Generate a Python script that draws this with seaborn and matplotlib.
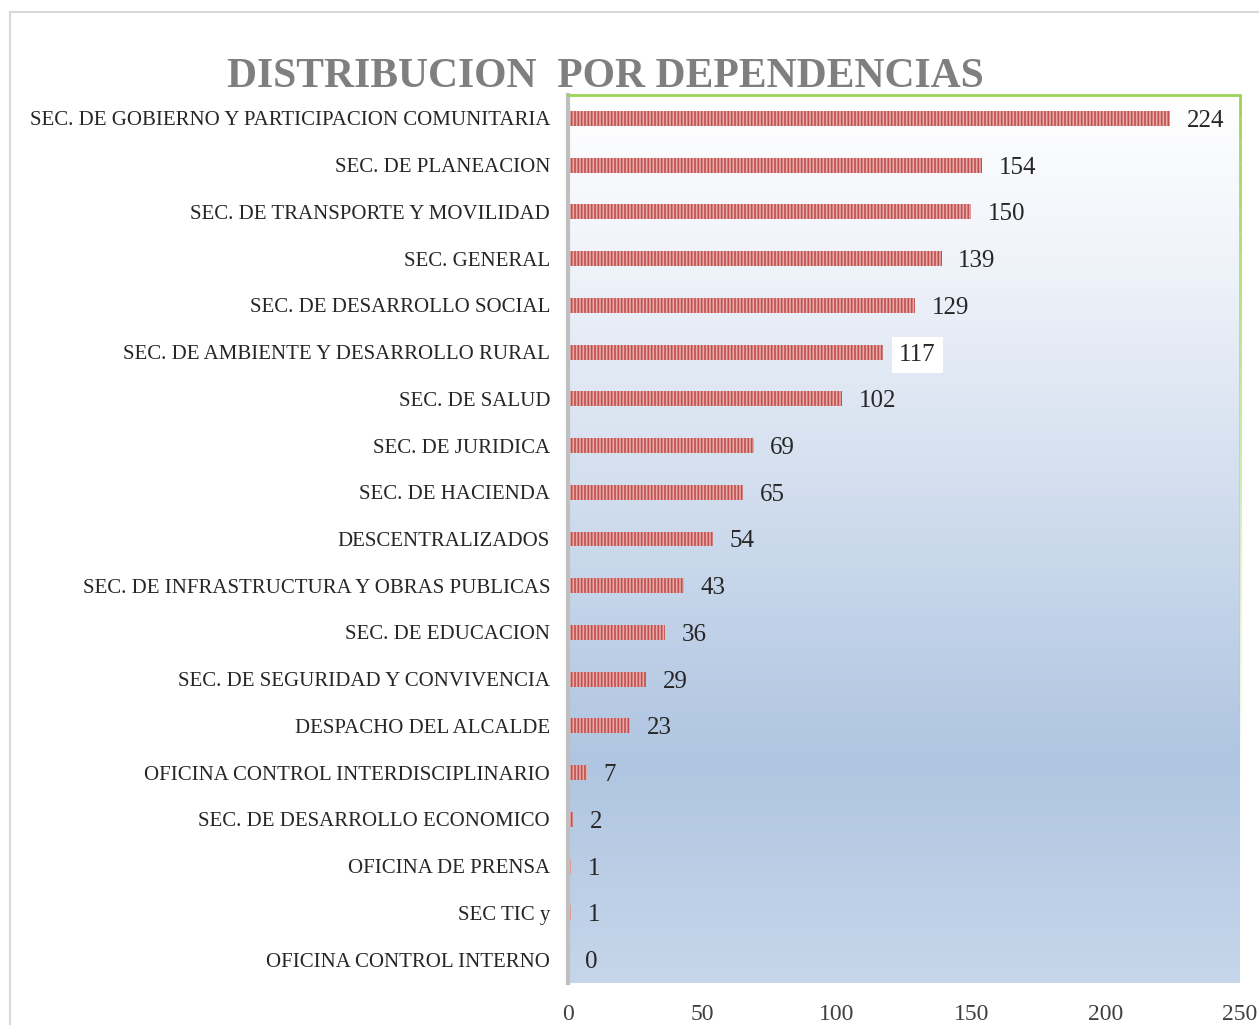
import matplotlib
matplotlib.use('Agg')
import matplotlib.pyplot as plt
import matplotlib.patches as mpatches
from matplotlib.colors import LinearSegmentedColormap
import numpy as np
import pandas as pd
import seaborn as sns

# Data
dependencias = [
    'SEC. DE GOBIERNO Y PARTICIPACION COMUNITARIA',
    'SEC. DE PLANEACION',
    'SEC. DE TRANSPORTE Y MOVILIDAD',
    'SEC. GENERAL',
    'SEC. DE DESARROLLO SOCIAL',
    'SEC. DE AMBIENTE Y DESARROLLO RURAL',
    'SEC. DE SALUD',
    'SEC. DE JURIDICA',
    'SEC. DE HACIENDA',
    'DESCENTRALIZADOS',
    'SEC. DE INFRASTRUCTURA Y OBRAS PUBLICAS',
    'SEC. DE EDUCACION',
    'SEC. DE SEGURIDAD Y CONVIVENCIA',
    'DESPACHO DEL ALCALDE',
    'OFICINA CONTROL INTERDISCIPLINARIO',
    'SEC. DE DESARROLLO ECONOMICO',
    'OFICINA DE PRENSA',
    'SEC TIC y',
    'OFICINA CONTROL INTERNO',
]
cantidades = [224, 154, 150, 139, 129, 117, 102, 69, 65, 54, 43, 36, 29, 23, 7, 2, 1, 1, 0]
x_ticks = [0, 50, 100, 150, 200, 250]

df = pd.DataFrame({'dependencia': dependencias, 'cantidad': cantidades})

sns.set_style('white')
plt.rcParams['font.family'] = ['Liberation Serif', 'DejaVu Serif']
plt.rcParams['hatch.linewidth'] = 1.2

fig = plt.figure(figsize=(12.59, 10.25), dpi=100)
ax = fig.add_axes([0.4512, 0.0410, 0.5337, 0.8663])

# outer chart border
fig.patches.append(mpatches.Rectangle((10 / 1259, -0.1), 1.2, 1 - 12 / 1025 + 0.1,
                                      transform=fig.transFigure, fill=False,
                                      edgecolor='#d9d9d9', linewidth=1.5))

# plot-area gradient
grad = LinearSegmentedColormap.from_list(
    'bg', [(0.0, '#ffffff'), (0.2, '#eef2f9'), (0.75, '#afc5e1'), (1.0, '#c6d6ea')])
ax.imshow(np.linspace(0, 1, 256).reshape(-1, 1), cmap=grad, aspect='auto',
          extent=[0, 1, 0, 1], transform=ax.transAxes, origin='upper', zorder=0)

sns.barplot(data=df, x='cantidad', y='dependencia', orient='h', ax=ax,
            color='#e6abaa', edgecolor='#c0504d', linewidth=0, hatch='|||||',
            width=0.32, saturation=1, zorder=2)

labels = ax.bar_label(ax.containers[0], padding=12, fontsize=18, color='#262626')
labels[5].set_bbox(dict(facecolor='white', edgecolor='none', pad=5))
for t in labels:
    t.set_va('center_baseline')

ax.set_xlim(0, 250)
ax.set_ylim(len(dependencias) - 0.5, -0.5)
ax.set_xticks(x_ticks)
ax.set_xlabel('')
ax.set_ylabel('')
ax.tick_params(axis='x', length=0, pad=15, labelsize=17, labelcolor='#404040')
ax.tick_params(axis='y', length=0, pad=13, labelsize=15, labelcolor='#262626')

for side in ['top', 'right', 'bottom', 'left']:
    ax.spines[side].set_visible(False)
ax.spines['left'].set_visible(True)
ax.spines['left'].set_color('#bfbfbf')
ax.spines['left'].set_linewidth(3)
ax.spines['top'].set_visible(True)
ax.spines['top'].set_color('#9bd35a')
ax.spines['top'].set_linewidth(2)

# right border fading out toward the bottom
segs = np.linspace(1, 0, 40)
for i in range(len(segs) - 1):
    ax.plot([1, 1], [segs[i], segs[i + 1]], transform=ax.transAxes, color='#9bd35a',
            lw=2, alpha=max(0.0, 1 - i / 30), clip_on=False, zorder=5,
            solid_capstyle='butt')

fig.text(605 / 1259, 1 - 77 / 1025, 'DISTRIBUCION  POR DEPENDENCIAS', ha='center',
         va='center', fontsize=30, fontweight='bold', color='#7f7f7f')

fig.savefig('out.png', dpi=100)
